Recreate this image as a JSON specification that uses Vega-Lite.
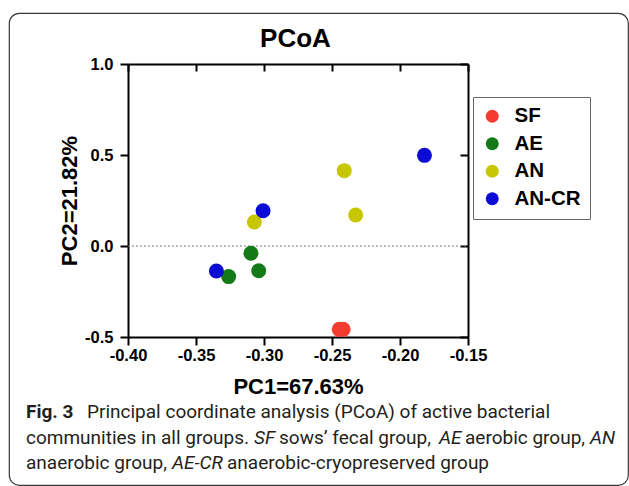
{
  "$schema": "https://vega.github.io/schema/vega-lite/v6.json",
  "width": 619,
  "height": 472,
  "autosize": {"type": "none"},
  "padding": {"left": 9, "top": 13, "right": 1, "bottom": 1},
  "background": "white",
  "title": {"text": "PCoA", "font": "Liberation Sans", "fontSize": 26, "fontWeight": "bold", "color": "black", "anchor": "middle", "frame": "group", "offset": -39, "dx": -23},
  "datasets": {
    "points": [
      {"group": "SF", "pc1": -0.2447, "pc2": -0.458},
      {"group": "SF", "pc1": -0.2418, "pc2": -0.458},
      {"group": "AE", "pc1": -0.3096, "pc2": -0.040},
      {"group": "AE", "pc1": -0.3039, "pc2": -0.136},
      {"group": "AE", "pc1": -0.3260, "pc2": -0.168},
      {"group": "AN", "pc1": -0.2410, "pc2": 0.414},
      {"group": "AN", "pc1": -0.2326, "pc2": 0.170},
      {"group": "AN", "pc1": -0.3071, "pc2": 0.132},
      {"group": "AN-CR", "pc1": -0.1820, "pc2": 0.498},
      {"group": "AN-CR", "pc1": -0.3007, "pc2": 0.194},
      {"group": "AN-CR", "pc1": -0.3350, "pc2": -0.137}
    ],
    "caption": [
      {"line": 1, "pos": 17, "style": "bold", "text": "Fig. 3"},
      {"line": 1, "pos": 78, "style": "normal", "text": "Principal coordinate analysis (PCoA) of active bacterial"},
      {"line": 2, "pos": 17, "style": "normal", "text": "communities in all groups."},
      {"line": 2, "pos": 245, "style": "italic", "text": "SF"},
      {"line": 2, "pos": 270, "style": "normal", "text": "sows’ fecal group,"},
      {"line": 2, "pos": 430, "style": "italic", "text": "AE"},
      {"line": 2, "pos": 456, "style": "normal", "text": "aerobic group,"},
      {"line": 2, "pos": 581, "style": "italic", "text": "AN"},
      {"line": 3, "pos": 17, "style": "normal", "text": "anaerobic group,"},
      {"line": 3, "pos": 163, "style": "italic", "text": "AE-CR"},
      {"line": 3, "pos": 218, "style": "normal", "text": "anaerobic-cryopreserved group"}
    ]
  },
  "layer": [
    {
      "data": {"values": [{"ref": 0}]},
      "mark": {"type": "rule", "color": "#777777", "strokeDash": [2, 2], "strokeWidth": 1},
      "encoding": {
        "x": {"datum": -0.4, "type": "quantitative", "scale": {"domain": [-0.4, -0.15], "range": [119, 459], "nice": false, "zero": false}, "axis": {"orient": "top", "offset": -51, "labels": false, "tickSize": -7, "values": [-0.4, -0.35, -0.3, -0.25, -0.2, -0.15], "title": null}},
        "x2": {"datum": -0.15},
        "y": {"field": "ref", "type": "quantitative", "scale": {"domain": [-0.5, 1], "range": [324, 51], "nice": false, "zero": false}, "axis": {"orient": "right", "offset": -160, "labels": false, "tickSize": -8, "values": [-0.5, 0, 0.5, 1], "title": null}}
      }
    },
    {
      "data": {"name": "points"},
      "mark": {"type": "point", "filled": true, "shape": "circle", "size": 225, "opacity": 1},
      "encoding": {
        "x": {"field": "pc1", "type": "quantitative", "scale": {"domain": [-0.4, -0.15], "range": [119, 459], "nice": false, "zero": false}, "axis": {"orient": "bottom", "offset": -148, "values": [-0.4, -0.35, -0.3, -0.25, -0.2, -0.15], "format": ".2f", "tickSize": 8, "labelPadding": 2, "labelFlush": false, "labelFontSize": 16.5, "title": "PC1=67.63%", "titlePadding": 13}},
        "y": {"field": "pc2", "type": "quantitative", "scale": {"domain": [-0.5, 1], "range": [324, 51], "nice": false, "zero": false}, "axis": {"orient": "left", "offset": -119, "values": [-0.5, 0, 0.5, 1], "format": ".1f", "tickSize": 8, "labelPadding": 7, "labelFontSize": 16.5, "title": "PC2=21.82%", "titlePadding": 3}},
        "color": {"field": "group", "type": "nominal", "scale": {"domain": ["SF", "AE", "AN", "AN-CR"], "range": ["#f33b2f", "#137a17", "#c8c600", "#0b0bd6"]},
          "legend": {"orient": "none", "legendX": 464, "legendY": 84, "title": null, "strokeColor": "#666666", "fillColor": "white", "padding": 9, "symbolType": "circle", "symbolSize": 169, "symbolStrokeWidth": 0, "symbolOpacity": 1, "labelFont": "Liberation Sans", "labelFontWeight": "bold", "labelFontSize": 20.5, "labelColor": "black", "labelOffset": 12, "rowPadding": 6.5}}
      }
    },
    {
      "data": {"name": "caption"},
      "encoding": {
        "x": {"field": "pos", "type": "quantitative", "scale": {"domain": [0, 619], "range": [0, 619], "nice": false, "zero": false}, "axis": null},
        "y": {"field": "line", "type": "quantitative", "scale": {"domain": [1, 3], "range": [405, 456], "nice": false, "zero": false}, "axis": null},
        "text": {"field": "text"}
      },
      "layer": [
        {"transform": [{"filter": "datum.style === 'bold'"}], "mark": {"type": "text", "align": "left", "baseline": "alphabetic", "font": "Roboto", "fontSize": 19, "fontWeight": "bold", "color": "#231f20"}},
        {"transform": [{"filter": "datum.style === 'normal'"}], "mark": {"type": "text", "align": "left", "baseline": "alphabetic", "font": "Roboto", "fontSize": 19, "fontWeight": "normal", "color": "#231f20"}},
        {"transform": [{"filter": "datum.style === 'italic'"}], "mark": {"type": "text", "align": "left", "baseline": "alphabetic", "font": "Roboto", "fontSize": 19, "fontStyle": "italic", "color": "#231f20"}}
      ]
    }
  ],
  "resolve": {"scale": {"x": "independent", "y": "independent"}, "axis": {"x": "independent", "y": "independent"}},
  "config": {
    "locale": {"number": {"decimal": ".", "thousands": ",", "grouping": [3], "currency": ["$", ""], "minus": "-"}},
    "view": {"stroke": "#3a3a3a", "strokeWidth": 1.2, "cornerRadius": 10},
    "axis": {"grid": false, "domainColor": "black", "domainWidth": 2, "tickColor": "black", "tickWidth": 2, "labelFont": "Liberation Sans", "labelFontWeight": "bold", "labelColor": "black", "titleFont": "Liberation Sans", "titleFontWeight": "bold", "titleFontSize": 22, "titleColor": "black"}
  }
}
